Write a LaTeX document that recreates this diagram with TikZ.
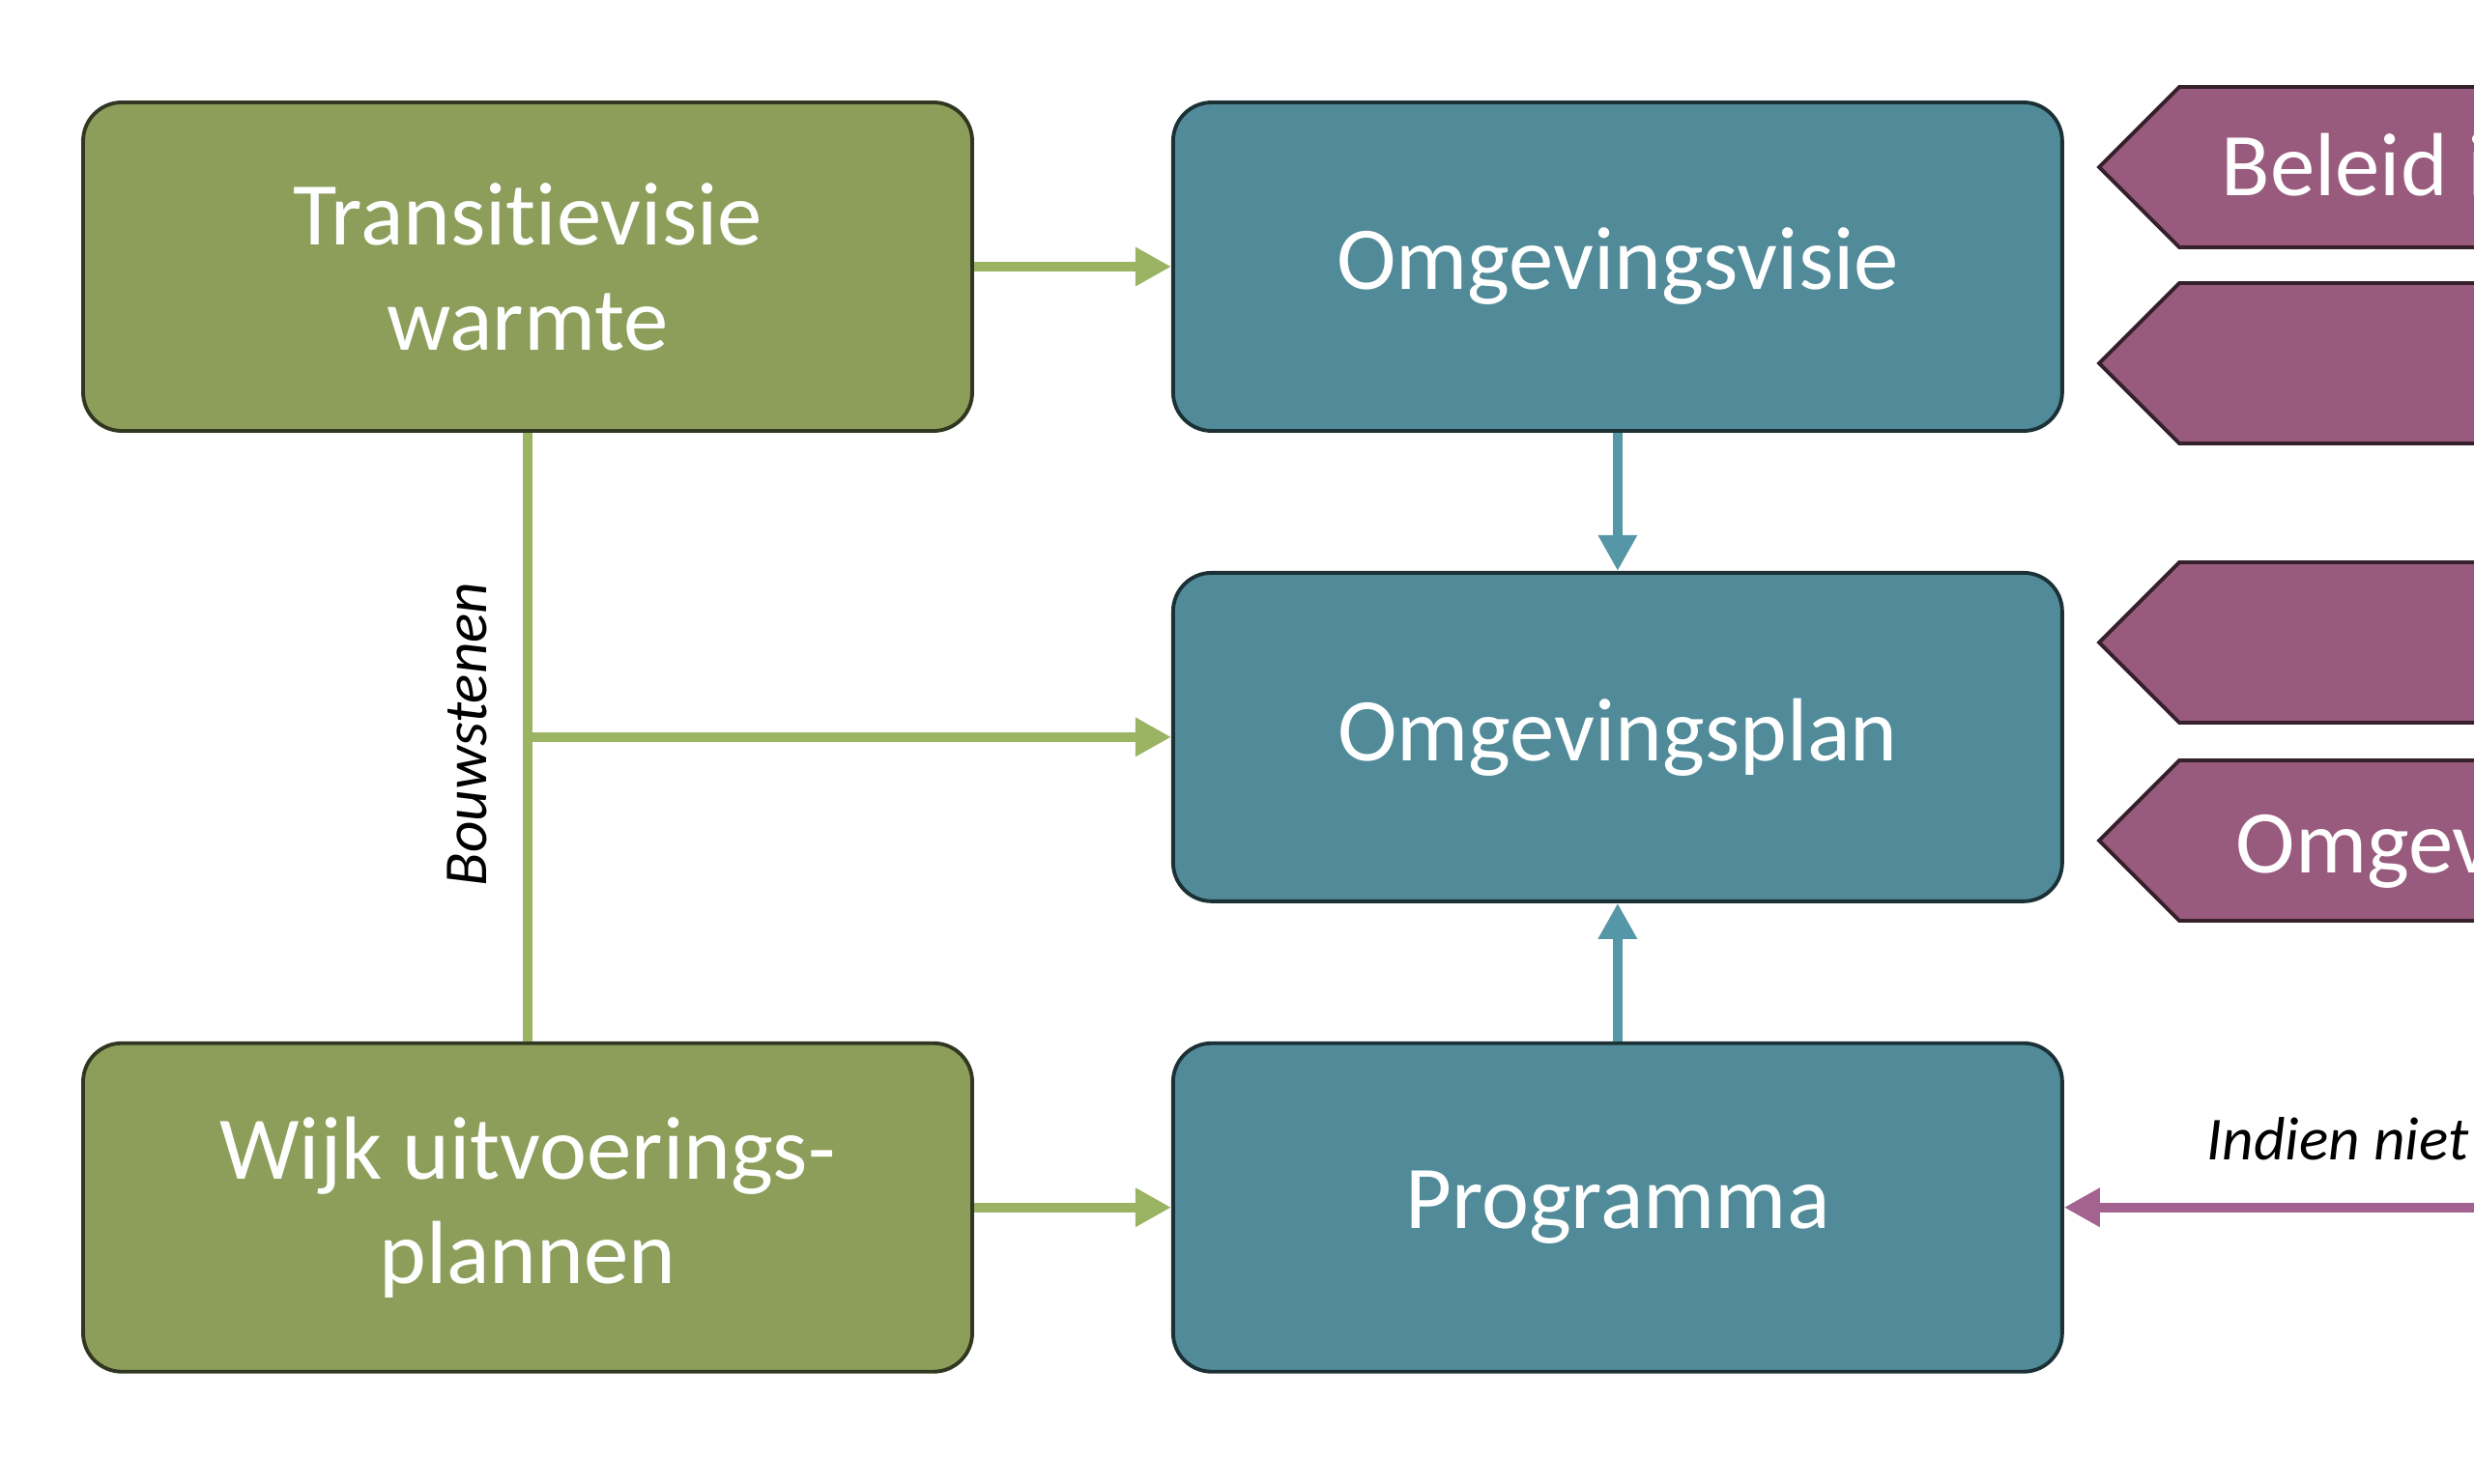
\documentclass[tikz,border=0pt]{standalone}
\usepackage{fontspec}
\setmainfont{Carlito}[Ligatures=NoCommon]
\usetikzlibrary{arrows.meta,positioning}

\definecolor{boxgreen}{RGB}{141,158,91}
\definecolor{boxteal}{RGB}{81,139,153}
\definecolor{boxplum}{RGB}{152,91,125}
\definecolor{linegreen}{RGB}{155,180,100}
\definecolor{lineteal}{RGB}{86,151,167}
\definecolor{lineplum}{RGB}{163,98,143}

\begin{document}
\begin{tikzpicture}[>={Triangle[length=0.37cm,width=0.38cm]},
        box/.style={rounded corners=0.4cm,minimum width=9.2cm,minimum height=3.4cm,
          text=white,align=center,line width=1.1pt,
          font=\fontsize{26.4}{31}\selectfont},
        greenbox/.style={box,fill=boxgreen,draw=boxgreen!35!black},
        tealbox/.style={box,fill=boxteal,draw=boxteal!35!black},
        tag/.style={fill=boxplum,draw=boxplum!35!black,line width=1.1pt},
        tagtext/.style={anchor=base west,text=white,inner sep=0pt,
          font=\fontsize{26.4}{31}\selectfont},
        remark/.style={inner sep=0pt,font=\fontsize{18}{22}\selectfont\itshape},
        garrow/.style={draw=linegreen,fill=linegreen,line width=0.1cm},
        tarrow/.style={draw=lineteal,fill=lineteal,line width=0.1cm},
        parrow/.style={draw=lineplum,fill=lineplum,line width=0.1cm}]
  \useasboundingbox (0,0) rectangle (25.6,-15.36);
  \clip (0,0) rectangle (25.6,-15.36);

  % left column and middle column
  \node[greenbox] (trans) at (5.46,-2.76) {Transitievisie\\warmte};
  \node[tealbox] (visie) [right=2.04cm of trans] {Omgevingsvisie};
  \node[tealbox] (plan) [below=1.43cm of visie] {Omgevingsplan};
  \node[tealbox] (prog) [below=1.43cm of plan] {Programma};
  \node[greenbox] (wijk) [left=2.04cm of prog] {Wijk uitvoerings-\\plannen};

  % tags on the right, cut off by the page edge
  \foreach \y in {1.73,3.76,6.65,8.70}
    \path[tag] (21.72,-\y) -- ++(0.83,0.83) -- ++(4,0) -- ++(0,-1.66)
      -- ++(-4,0) -- cycle;
  \node[tagtext] (beleid) at (22.98,-2.03) {Beleid i};
  \node[tagtext] (omgev) at (23.13,-9.03) {Omgev};

  \coordinate[right=6cm of prog.east] (offpage);
  \coordinate (split) at (trans.south |- plan.west);

  \draw[garrow,->] (trans) -- (visie);
  \draw[garrow] (trans.south) -- (wijk.north);
  \draw[garrow,->] (split) -- (plan.west);
  \draw[garrow,->] (wijk) -- (prog);
  \draw[tarrow,->] (visie) -- (plan);
  \draw[tarrow,->] (prog) -- (plan);
  \draw[parrow,->] (offpage) -- (prog.east);

  \node[remark,rotate=90] (bouw) at (4.83,-7.60) {Bouwstenen};
  \node[remark,anchor=base west] (indien) at (22.83,-12.0) {Indien niet};
\end{tikzpicture}
\end{document}
